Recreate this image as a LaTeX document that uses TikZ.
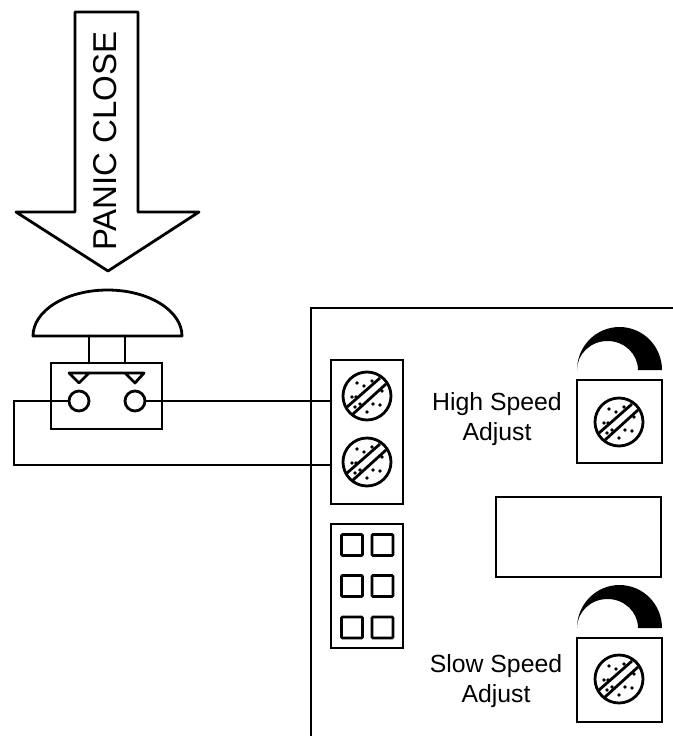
\documentclass[tikz,border=0pt]{standalone}
\usepackage{fontspec}
\setmainfont{Liberation Sans}
\tikzset{
  ln/.style={draw=black,line width=2.8pt,line join=miter,line cap=round},
  lbl/.style={inner sep=0pt,font=\fontsize{24.8}{30}\selectfont,align=center},
  screw/.pic={
    \draw[ln] (0,0) circle[radius=24];
    \draw[ln,line cap=butt] (-20,11) -- (13,-18) (-14,18) -- (19,-12);
    \foreach \a/\b in {-10/-13,-3/-10,5/-15,15/-5,-15/1,-11/1,-7/8,6/8,13/9,0/16,-12/11}
      \fill (\a,\b) circle[radius=1.8];
  },
  knobarc/.pic={
    \fill (-42.5,0) arc[start angle=180,end angle=360,x radius=42.5,y radius=43]
      -- (18.5,0) arc[start angle=360,end angle=180,x radius=30.5,y radius=29] -- cycle;
  }
}
\begin{document}
\begin{tikzpicture}[x=1pt,y=-1pt]
\useasboundingbox (0,0) rectangle (672,736);
% panic arrow
\draw[ln,line join=round] (75,12) -- (138,12) -- (138,212) -- (199,212) -- (108,271) -- (16,212) -- (75,212) -- cycle;
\node[inner sep=0pt,rotate=90,font=\fontsize{33}{36}\selectfont] (panic) at (105,141) {PANIC CLOSE};
% mushroom button
\draw[ln,line join=round] (33,336) arc[start angle=180,end angle=360,x radius=74.5,y radius=46] -- cycle;
\coordinate (domeL) at (89,336); \coordinate (domeR) at (125,336);
\node[ln,minimum width=111pt,minimum height=66pt,inner sep=0pt] (switch) at (106.5,396) {};
\coordinate (stemL) at (89,363); \coordinate (stemR) at (125,363);
\draw[ln] (domeL) -- (stemL) (domeR) -- (stemR);
\draw[ln,line join=round] (69,373) -- (144,373) -- (135,383) -- (125,373) (89,373) -- (79,383) -- (69,373);
\node[ln,circle,minimum size=20pt,inner sep=0pt] (termL) at (79,401) {};
\node[ln,circle,minimum size=20pt,inner sep=0pt] (termR) at (135,401) {};
% board
\coordinate (bTL) at (311,308);
\draw[ln] (311,738) -- (bTL) -- (674,308);
% terminal block
\node[ln,minimum width=72pt,minimum height=144pt,inner sep=0pt] (block) at (367,432) {};
\pic at (367,396) {screw};
\pic at (367,462) {screw};
\coordinate (wireA) at (331,401);
\coordinate (wireB) at (331,465);
\coordinate (cornerT) at (14,401);
\coordinate (cornerB) at (14,465);
\draw[ln] (termR) -- (wireA);
\draw[ln] (termL) -- (cornerT) -- (cornerB) -- (wireB);
% dip block
\node[ln,minimum width=72pt,minimum height=124pt,inner sep=0pt] (dip) at (367,586) {};
\foreach \nx/\cx in {a/352,b/382.5}
  \foreach \ny/\cy in {1/545,2/586,3/627.5}
    \node[ln,rounded corners=1pt,minimum size=21pt,inner sep=0pt] (sw\nx\ny) at (\cx,\cy) {};
% display
\node[ln,minimum width=165pt,minimum height=80pt,inner sep=0pt] (display) at (578.5,537) {};
% adjusters
\node[ln,minimum width=85pt,minimum height=83pt,inner sep=0pt] (high) at (619.5,421.5) {};
\pic at (619,422) {screw};
\pic at (619.5,370) {knobarc};
\node[ln,minimum width=85pt,minimum height=84pt,inner sep=0pt] (slow) at (619.5,680) {};
\pic at (619,679) {screw};
\pic at (619.5,628) {knobarc};
\node[lbl] (hs) at (497,419) {High Speed\\Adjust};
\node[lbl] (ss) at (496,681) {Slow Speed\\Adjust};
\end{tikzpicture}
\end{document}
